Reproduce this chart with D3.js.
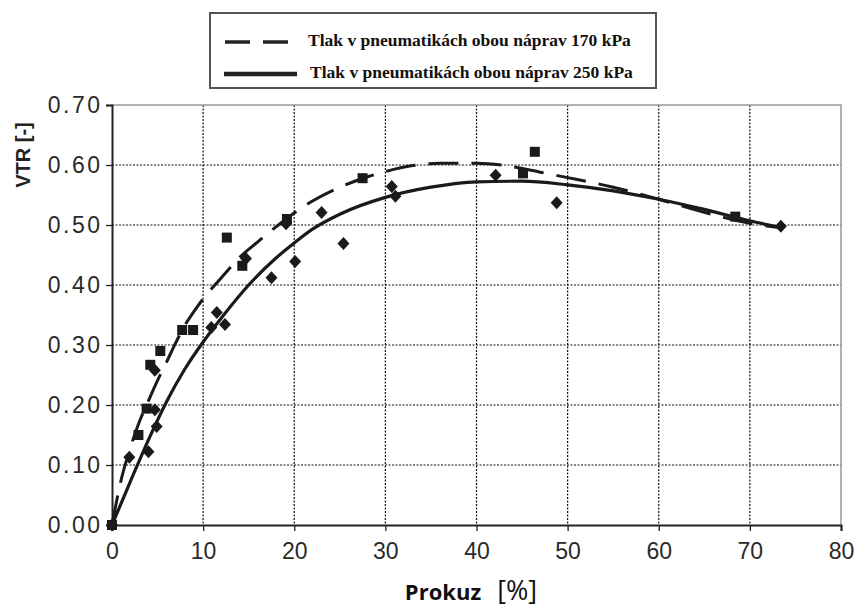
<!DOCTYPE html>
<html>
<head>
<meta charset="utf-8">
<script src="https://cdn.jsdelivr.net/npm/d3@7/dist/d3.min.js"></script>
<style>
  html, body { margin: 0; padding: 0; background: #fff; }
  svg { display: block; }
</style>
</head>
<body>
<svg id="chart" width="857" height="610"></svg>
<script>
// Measured points, 170 kPa (squares) — slip [%], VTR [-]
const slip170 = [0, 2.9, 3.8, 4.2, 5.3, 7.7, 8.9, 12.6, 14.3, 19.2, 27.5, 45.1, 46.4, 68.4];
const vtr170  = [0, 0.150, 0.194, 0.267, 0.290, 0.325, 0.325, 0.479, 0.432, 0.510, 0.578, 0.586, 0.622, 0.514];

// Measured points, 250 kPa (diamonds)
const slip250 = [0, 1.9, 4.0, 4.9, 4.7, 4.7, 10.9, 11.5, 12.4, 14.7, 17.5, 19.1, 20.1, 23.0, 25.4, 30.7, 31.1, 42.1, 48.8, 73.4];
const vtr250  = [0, 0.113, 0.122, 0.164, 0.192, 0.258, 0.329, 0.354, 0.334, 0.444, 0.412, 0.502, 0.439, 0.521, 0.469, 0.564, 0.548, 0.583, 0.537, 0.498];

// Trend curves
const trendX170 = [0, 1, 2, 3, 4, 5, 6, 7, 8, 9, 10, 12, 14, 16, 18, 20, 22, 25, 28, 30, 33, 36, 40, 44, 47, 50, 55, 60, 65, 70, 73];
const trendY170 = [0, 0.075, 0.128, 0.172, 0.207, 0.241, 0.272, 0.304, 0.333, 0.356, 0.377, 0.412, 0.446, 0.472, 0.497, 0.520, 0.540, 0.563, 0.580, 0.589, 0.599, 0.603, 0.603, 0.597, 0.588, 0.579, 0.563, 0.543, 0.521, 0.503, 0.496];

const trendX250 = [0, 2, 4, 6, 8, 10, 12, 15, 18, 20, 22, 25, 30, 35, 40, 45, 50, 55, 60, 65, 70, 73];
const trendY250 = [0, 0.072, 0.142, 0.206, 0.260, 0.305, 0.345, 0.400, 0.445, 0.470, 0.493, 0.518, 0.546, 0.563, 0.572, 0.573, 0.567, 0.557, 0.543, 0.526, 0.507, 0.497];

const xTicks = [0, 10, 20, 30, 40, 50, 60, 70, 80];
const yTicks = [0, 0.1, 0.2, 0.3, 0.4, 0.5, 0.6, 0.7];

const legendLabels = [
  "Tlak v pneumatikách obou náprav 170 kPa",
  "Tlak v pneumatikách obou náprav 250 kPa"
];

const svg = d3.select("#chart");
const plotL = 112, plotR = 841, plotT = 105, plotB = 525;

const x = d3.scaleLinear().domain([0, 80]).range([plotL, plotR]);
const y = d3.scaleLinear().domain([0, 0.7]).range([plotB, plotT]);

// Grid
const grid = svg.append("g");
grid.selectAll("line.v").data(xTicks.filter(d => d > 0 && d < 80)).enter().append("line")
  .attr("class", "v")
  .attr("x1", d => x(d)).attr("x2", d => x(d)).attr("y1", plotT).attr("y2", plotB)
  .attr("stroke", "#111").attr("stroke-width", 1.2).attr("stroke-dasharray", "2,1.5");
grid.selectAll("line.h").data(yTicks.filter(d => d > 0 && d < 0.7)).enter().append("line")
  .attr("class", "h")
  .attr("x1", plotL).attr("x2", plotR).attr("y1", d => y(d)).attr("y2", d => y(d))
  .attr("stroke", "#111").attr("stroke-width", 1.2).attr("stroke-dasharray", "2,1.5");

// Plot frame: grey top/right
svg.append("path")
  .attr("d", `M${plotL},${plotT}H${plotR}V${plotB}`)
  .attr("fill", "none").attr("stroke", "#999").attr("stroke-width", 1.5);

// Axes
const xAxis = d3.axisBottom(x).tickValues(xTicks).tickSize(6).tickFormat(d3.format("d"));
const yAxis = d3.axisLeft(y).tickValues(yTicks).tickSize(6).tickFormat(d3.format(".2f"));

const gx = svg.append("g").attr("transform", `translate(0,${plotB})`).call(xAxis);
const gy = svg.append("g").attr("transform", `translate(${plotL},0)`).call(yAxis);
[gx, gy].forEach(g => {
  g.select(".domain").attr("stroke", "#222").attr("stroke-width", 2);
  g.selectAll(".tick line").attr("stroke", "#222").attr("stroke-width", 1.3);
  g.selectAll(".tick text")
    .attr("font-family", "'Liberation Sans', Arial, sans-serif")
    .attr("font-size", 23).attr("fill", "#2a2a2a");
});
gx.selectAll(".tick text").attr("dy", "1.1em");
gy.selectAll(".tick text").attr("x", -9.5).attr("letter-spacing", 2.5);

// Trend lines
const line = d3.line().x(d => x(d[0])).y(d => y(d[1])).curve(d3.curveMonotoneX);
svg.append("path")
  .datum(trendX170.map((v, i) => [v, trendY170[i]]))
  .attr("d", line).attr("fill", "none").attr("stroke", "#1a1a1a")
  .attr("stroke-width", 3).attr("stroke-dasharray", "30,13");
svg.append("path")
  .datum(trendX250.map((v, i) => [v, trendY250[i]]))
  .attr("d", line).attr("fill", "none").attr("stroke", "#1a1a1a")
  .attr("stroke-width", 3.2);

// Markers
svg.append("g").selectAll("rect")
  .data(slip170.map((v, i) => [v, vtr170[i]])).enter().append("rect")
  .attr("x", d => x(d[0]) - 5).attr("y", d => y(d[1]) - 5)
  .attr("width", 10).attr("height", 10).attr("fill", "#1a1a1a");
svg.append("g").selectAll("path")
  .data(slip250.map((v, i) => [v, vtr250[i]])).enter().append("path")
  .attr("transform", d => `translate(${x(d[0])},${y(d[1])})`)
  .attr("d", "M0,-6.5L6,0L0,6.5L-6,0Z").attr("fill", "#1a1a1a");

// Axis titles
svg.append("text")
  .attr("transform", `translate(30,155) rotate(-90)`)
  .attr("text-anchor", "middle")
  .attr("font-family", "'Liberation Sans', Arial, sans-serif")
  .attr("font-weight", "bold").attr("font-size", 20).attr("fill", "#222")
  .text("VTR [-]");

const xt = svg.append("text")
  .attr("x", 471).attr("y", 600).attr("text-anchor", "middle")
  .attr("font-family", "'Open Sans', 'Liberation Sans', sans-serif").attr("fill", "#111");
xt.append("tspan").attr("font-weight", "bold").attr("font-size", 22).text("Prokuz");
xt.append("tspan").attr("dx", 16).attr("font-size", 27).text("[%]");

// Legend
const lg = svg.append("g");
lg.append("rect").attr("x", 210).attr("y", 13).attr("width", 446).attr("height", 75)
  .attr("fill", "#fff").attr("stroke", "#555").attr("stroke-width", 2);
lg.append("line").attr("x1", 225).attr("x2", 290).attr("y1", 42).attr("y2", 42)
  .attr("stroke", "#222").attr("stroke-width", 3.5).attr("stroke-dasharray", "25,13");
lg.append("line").attr("x1", 224).attr("x2", 297).attr("y1", 74).attr("y2", 74)
  .attr("stroke", "#222").attr("stroke-width", 4.5);
lg.selectAll("text").data(legendLabels).enter().append("text")
  .attr("x", (d, i) => i === 0 ? 308 : 310)
  .attr("y", (d, i) => i === 0 ? 46 : 78)
  .attr("font-family", "'Liberation Serif', 'Times New Roman', serif")
  .attr("font-weight", "bold").attr("font-size", 17.5).attr("fill", "#111")
  .text(d => d);
</script>
</body>
</html>
